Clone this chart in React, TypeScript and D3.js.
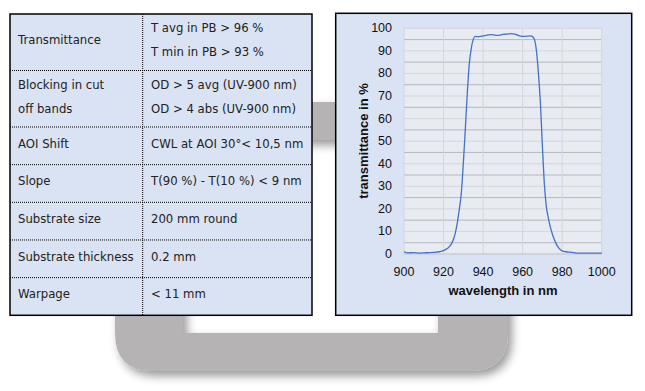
import React from "react";
import * as d3 from "d3";

const rowLabels: string[][] = [
  ["Transmittance"],
  ["Blocking in cut", "off bands"],
  ["AOI Shift"],
  ["Slope"],
  ["Substrate size"],
  ["Substrate thickness"],
  ["Warpage"],
];
const rowValues: string[][] = [
  ["T avg in PB > 96 %", "T min in PB > 93 %"],
  ["OD > 5 avg (UV-900 nm)", "OD > 4 abs (UV-900 nm)"],
  ["CWL at AOI 30°< 10,5 nm"],
  ["T(90 %) - T(10 %) < 9 nm"],
  ["200 mm round"],
  ["0.2 mm"],
  ["< 11 mm"],
];

const wavelength = [
  900, 902, 905, 908, 910, 913, 915, 918, 920, 922, 924, 925, 926, 927, 928, 929, 930, 931, 932, 933, 934, 935,
  936, 938, 940, 942, 944, 946, 948, 950, 952, 954, 956, 958, 960, 962, 964, 965, 966, 967, 968, 969, 970, 971,
  972, 973, 974, 975, 976, 977, 978, 979, 980, 982, 984, 986, 988, 990, 995, 1000,
];
const transmittance = [
  1.0, 0.5, 0.6, 0.4, 0.5, 0.6, 0.7, 1.0, 1.5, 2.5, 4.5, 6.5, 9.5, 14, 20, 27, 40, 55, 71, 84, 91, 95,
  96.4, 96.3, 96.6, 97.0, 97.2, 97.0, 96.9, 97.3, 97.4, 97.6, 97.4, 96.8, 96.4, 96.5, 96.6, 96.3, 95, 90, 80, 67, 48, 31,
  21, 16, 12, 9, 6.5, 4.5, 3, 2, 1.4, 1.0, 0.8, 0.6, 0.4, 0.4, 0.4, 0.4,
];

const xTicks = [900, 920, 940, 960, 980, 1000];
const yTicks = [0, 10, 20, 30, 40, 50, 60, 70, 80, 90, 100];
const yMinorTicks = [5, 15, 25, 35, 45, 55, 65, 75, 85, 95];

export default function App() {
  // table layout
  const tX0 = 10, tX1 = 312, tY0 = 14, tY1 = 315.3, colX = 142.7;
  const units = rowLabels.map((l, i) => Math.max(l.length, rowValues[i].length) + 1);
  const cum: number[] = [0];
  units.forEach((u) => cum.push(cum[cum.length - 1] + u));
  const rowScale = d3.scaleLinear().domain([0, cum[cum.length - 1]]).range([tY0, tY1]);

  // chart layout
  const cX0 = 335.7, cX1 = 631.7, cY0 = 13.3, cY1 = 315.3;
  const x = d3.scaleLinear().domain([900, 1000]).range([404, 601.7]);
  const y = d3.scaleLinear().domain([0, 100]).range([254, 28.3]);
  const line = d3
    .line<number>()
    .x((_, i) => x(wavelength[i]))
    .y((d) => y(d))
    .curve(d3.curveMonotoneX);

  // gray frame
  const oX0 = 115, oX1 = 508, oY0 = 102, oY1 = 371, r = 38;
  const iX0 = 183, iX1 = 438, iY0 = 140, iY1 = 333;
  const framePath =
    `M${oX0},${oY0} H${oX1} V${oY1 - r} Q${oX1},${oY1} ${oX1 - r},${oY1} H${oX0 + r} Q${oX0},${oY1} ${oX0},${oY1 - r} Z ` +
    `M${iX0},${iY0} V${iY1} H${iX1} V${iY0} Z`;

  const tableFont = "'DejaVu Sans', Verdana, sans-serif";
  const chartFont = "'Liberation Sans', Arial, sans-serif";

  return (
    <svg
      width={645}
      height={391}
      style={{ position: "fixed", left: 0, top: 0, background: "#fff" }}
    >
      <defs>
        <filter id="sh" x="-20%" y="-20%" width="140%" height="140%">
          <feDropShadow dx="4" dy="5" stdDeviation="5" floodColor="#000" floodOpacity="0.4" />
        </filter>
      </defs>
      <rect x={0} y={0} width={645} height={391} fill="#fff" />
      <path d={framePath} fill="#b5b3b3" fillRule="evenodd" filter="url(#sh)" />

      {/* table */}
      <rect x={tX0} y={tY0} width={tX1 - tX0} height={tY1 - tY0} fill="#dae3f3" />
      {cum.slice(1, -1).map((c, i) => (
        <line
          key={"rs" + i}
          x1={tX0}
          x2={tX1}
          y1={rowScale(c)}
          y2={rowScale(c)}
          stroke="#000"
          strokeWidth={1}
          strokeDasharray="1,1"
        />
      ))}
      <line x1={colX} x2={colX} y1={tY0} y2={tY1} stroke="#000" strokeWidth={1} strokeDasharray="1,1" />
      {rowLabels.map((lines, i) => {
        const mid = (rowScale(cum[i]) + rowScale(cum[i + 1])) / 2 - 2;
        const vals = rowValues[i];
        return (
          <g key={"row" + i} fontFamily={tableFont} fontSize={11.7} fill="#222">
            {lines.map((t, j) => (
              <text key={j} x={18} y={mid + (j - (lines.length - 1) / 2) * 24} dominantBaseline="central">
                {t}
              </text>
            ))}
            {vals.map((t, j) => (
              <text key={"v" + j} x={151} y={mid + (j - (vals.length - 1) / 2) * 24} dominantBaseline="central">
                {t}
              </text>
            ))}
          </g>
        );
      })}
      <rect x={tX0} y={tY0} width={tX1 - tX0} height={tY1 - tY0} fill="none" stroke="#000" strokeWidth={1.5} />

      {/* chart */}
      <rect x={cX0} y={cY0} width={cX1 - cX0} height={cY1 - cY0} fill="#dae3f3" stroke="#000" strokeWidth={1.5} />
      <rect x={x(900)} y={y(100)} width={x(1000) - x(900)} height={y(0) - y(100)} fill="#e8ebf1" />
      {yMinorTicks.map((t) => (
        <line key={"ym" + t} x1={x(900)} x2={x(1000)} y1={y(t)} y2={y(t)} stroke="#b4b8be" strokeWidth={1} />
      ))}
      {yTicks.map((t) => (
        <line key={"yg" + t} x1={x(900)} x2={x(1000)} y1={y(t)} y2={y(t)} stroke="#d3d6db" strokeWidth={1} />
      ))}
      {xTicks.map((t) => (
        <line key={"xg" + t} x1={x(t)} x2={x(t)} y1={y(100)} y2={y(0)} stroke="#d3d6db" strokeWidth={1} />
      ))}
      <line x1={x(900)} x2={x(1000)} y1={y(0)} y2={y(0)} stroke="#c4c7cc" strokeWidth={1} />
      <path d={line(transmittance) || ""} fill="none" stroke="#4472c4" strokeWidth={1.3} />
      <g fontFamily={chartFont} fontSize={12.5} fill="#111">
        {yTicks.map((t) => (
          <text key={"yl" + t} x={392} y={y(t)} textAnchor="end" dominantBaseline="central">
            {t}
          </text>
        ))}
        {xTicks.map((t) => (
          <text key={"xl" + t} x={x(t)} y={271.5} textAnchor="middle" dominantBaseline="central">
            {t}
          </text>
        ))}
        <text x={503} y={290} textAnchor="middle" dominantBaseline="central" fontWeight="bold" fontSize={13}>
          wavelength in nm
        </text>
        <text
          transform={`translate(363,141) rotate(-90)`}
          textAnchor="middle"
          dominantBaseline="central"
          fontWeight="bold"
          fontSize={13}
        >
          transmittance in %
        </text>
      </g>
    </svg>
  );
}
